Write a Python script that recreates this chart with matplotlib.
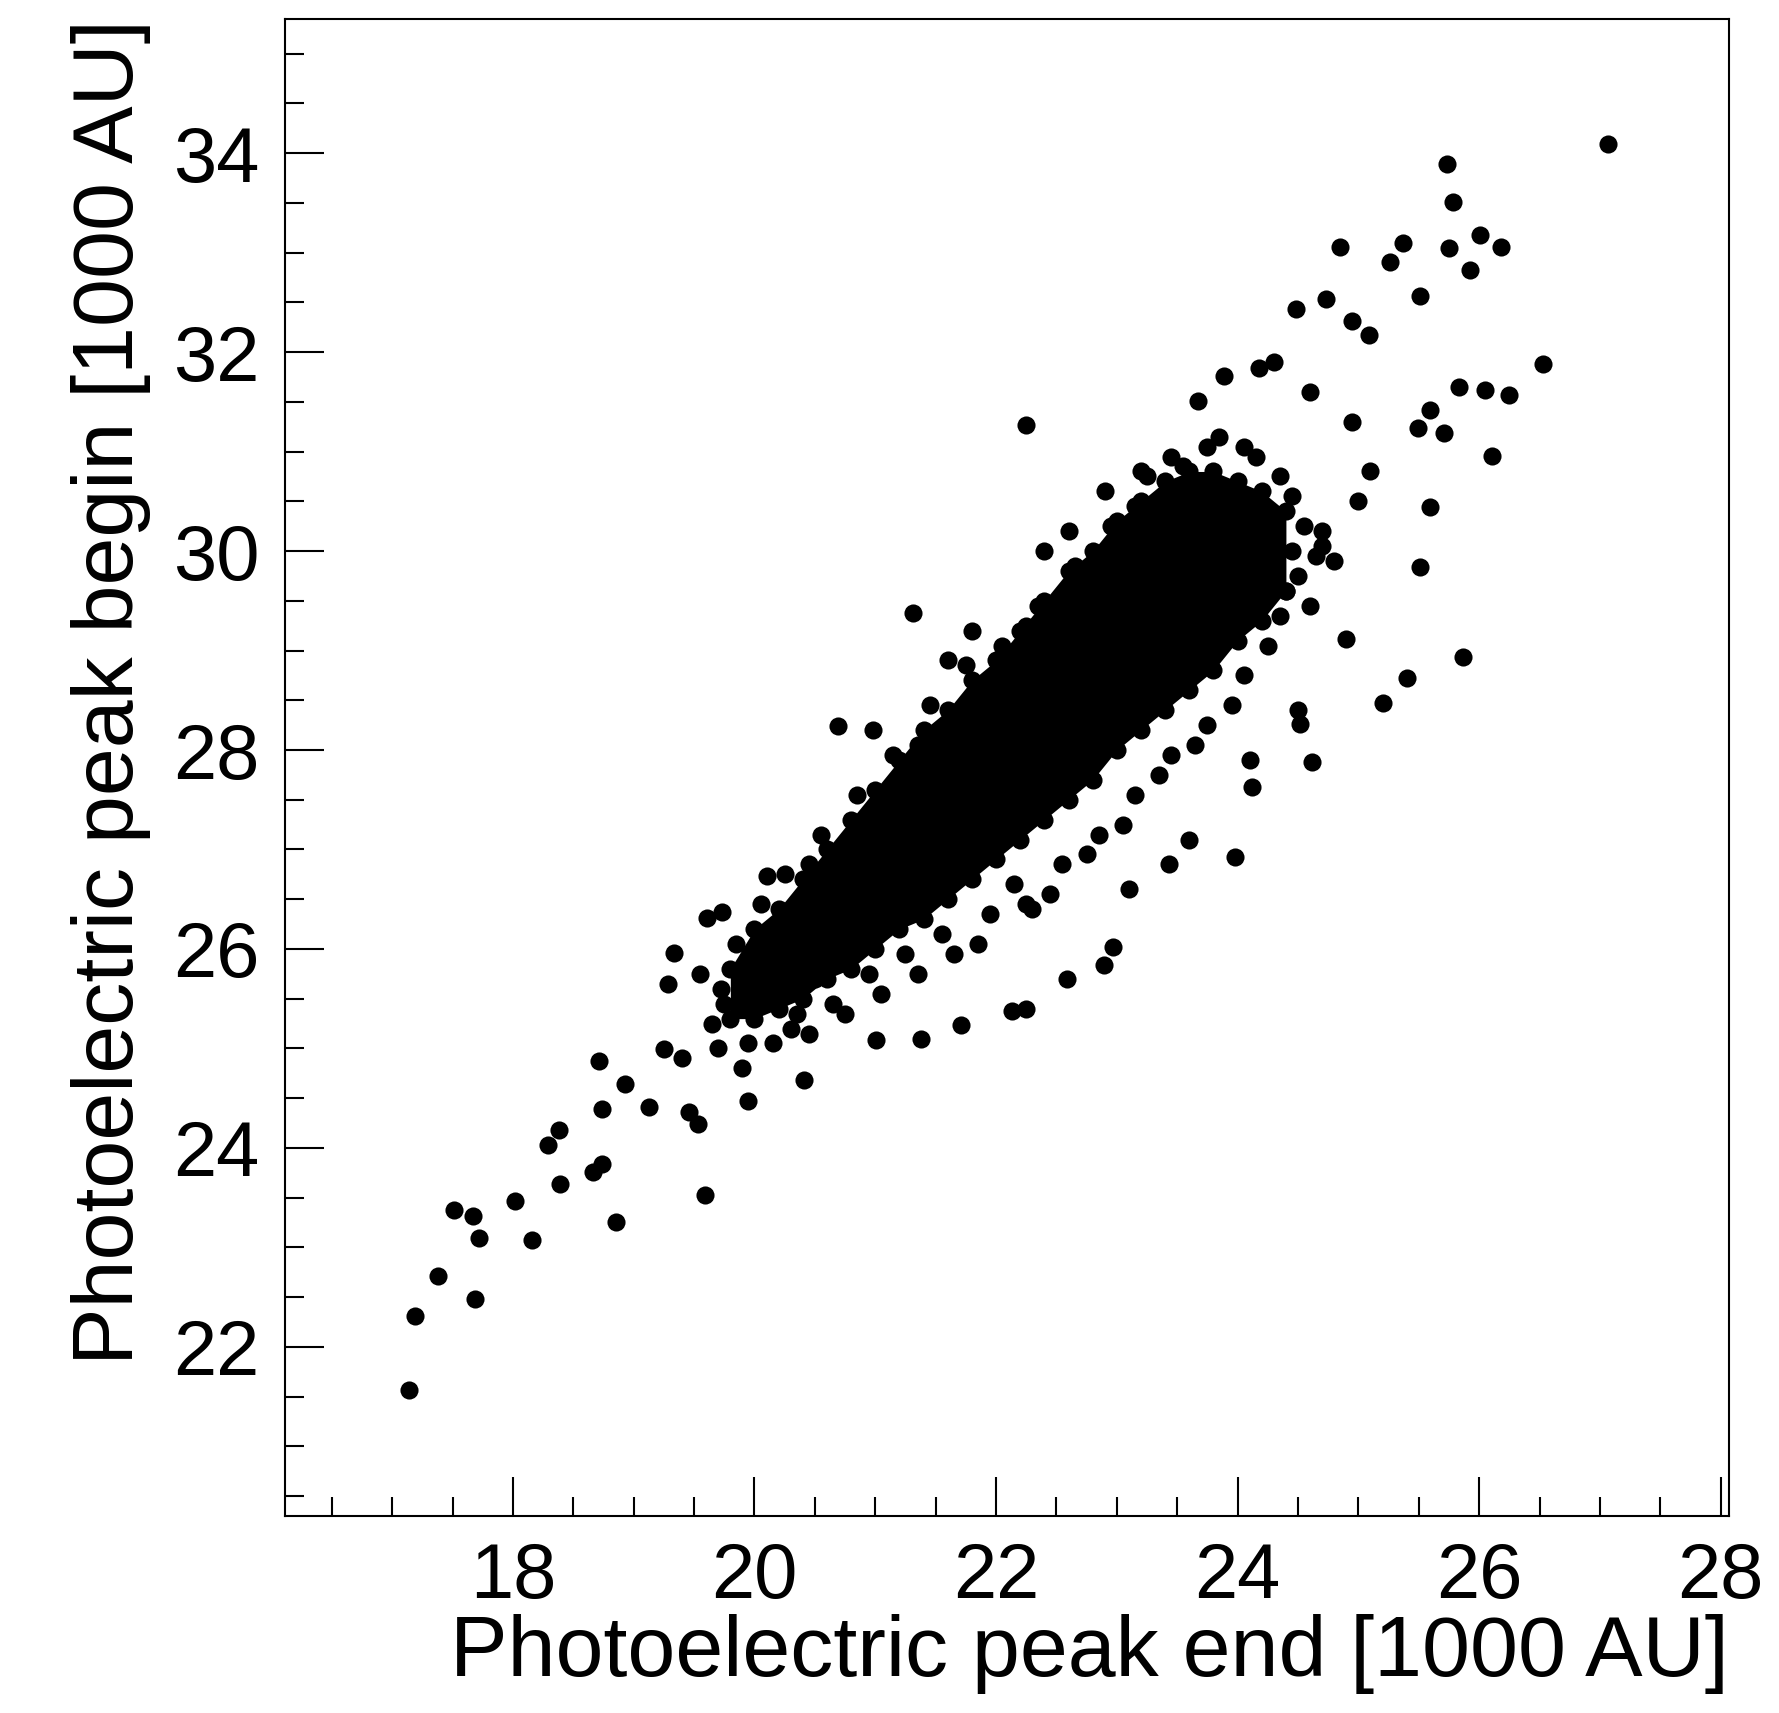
import matplotlib
matplotlib.use('Agg')
import matplotlib.pyplot as plt

plt.rcParams['font.family'] = ['Liberation Sans', 'DejaVu Sans']

# sparse / outlying events [1000 AU]
out_x = [27.07, 25.73, 25.78, 25.75, 26.01, 26.18, 25.92, 24.85, 25.37, 25.26, 25.51, 24.73, 24.48,
         24.95, 25.09, 26.53, 26.25, 26.05, 25.83, 25.71, 26.11, 25.59, 25.49, 25.59, 25.51, 25.87,
         25.40, 25.20, 22.25, 24.18, 23.89, 23.67, 24.90, 24.62, 24.52, 24.12, 23.98, 23.43, 22.97,
         22.89, 22.59, 22.25, 22.13, 21.71, 21.38, 21.01, 21.31, 20.69, 20.98, 19.59, 18.85, 18.16,
         17.72, 18.02, 17.67, 17.51, 17.69, 17.38, 17.19, 17.14, 18.39, 18.29, 18.38, 18.66, 18.74,
         18.74, 18.71, 18.93, 19.13, 19.25, 19.28, 19.33, 19.46, 19.53, 19.61, 19.73, 19.95, 20.10,
         20.41, 24.30, 24.60, 24.95, 25.10, 24.70, 24.40, 24.80, 25.00, 22.60, 22.90, 23.20, 22.40,
         21.80, 21.60, 22.30, 23.10, 23.60, 24.10, 24.50, 21.10, 20.50, 20.30, 19.70, 19.40, 19.90]
out_y = [34.09, 33.89, 33.51, 33.05, 33.18, 33.06, 32.83, 33.06, 33.10, 32.91, 32.56, 32.53, 32.43,
         32.31, 32.17, 31.88, 31.57, 31.62, 31.65, 31.19, 30.96, 31.42, 31.24, 30.44, 29.84, 28.93,
         28.72, 28.47, 31.27, 31.84, 31.76, 31.51, 29.12, 27.88, 28.26, 27.63, 26.92, 26.85, 26.02,
         25.84, 25.70, 25.40, 25.38, 25.24, 25.10, 25.08, 29.38, 28.24, 28.20, 23.53, 23.26, 23.07,
         23.09, 23.47, 23.32, 23.38, 22.48, 22.71, 22.31, 21.57, 23.64, 24.03, 24.18, 23.76, 23.84,
         24.39, 24.87, 24.64, 24.41, 24.99, 25.65, 25.96, 24.36, 24.24, 26.31, 26.37, 24.47, 26.73,
         24.68, 31.90, 31.60, 31.30, 30.80, 30.20, 29.60, 29.90, 30.50, 30.20, 30.60, 30.80, 30.00,
         29.20, 28.90, 26.40, 26.60, 27.10, 27.90, 28.40, 26.40, 25.70, 25.20, 25.00, 24.90, 24.80]

# halo of events around the dense core
halo_x = [19.75, 19.85, 20.05, 20.15, 20.25, 20.45, 20.55, 20.75, 20.85, 21.05, 21.15, 21.35,
          21.45, 21.65, 21.75, 21.95, 22.05, 22.25, 22.35, 22.55, 22.65, 22.85, 22.95, 23.15,
          23.25, 23.45, 23.55, 23.75, 23.85, 24.05, 24.15, 24.35, 24.45, 24.55, 24.50, 24.35,
          24.25, 24.05, 23.95, 23.75, 23.65, 23.45, 23.35, 23.15, 23.05, 22.85, 22.75, 22.55,
          22.45, 22.25, 22.15, 21.95, 21.85, 21.65, 21.55, 21.35, 21.25, 21.05, 20.95, 20.75,
          20.65, 20.45, 20.35, 20.15, 19.95, 19.65, 19.55, 24.65, 24.60, 24.70, 19.72, 24.45]
halo_y = [25.45, 26.05, 26.45, 26.15, 26.75, 26.85, 27.15, 27.05, 27.55, 27.45, 27.95, 28.05,
          28.45, 28.35, 28.85, 28.65, 29.05, 29.25, 29.45, 29.35, 29.85, 29.95, 30.25, 30.45,
          30.75, 30.95, 30.85, 31.05, 31.15, 31.05, 30.95, 30.75, 30.55, 30.25, 29.75, 29.35,
          29.05, 28.75, 28.45, 28.25, 28.05, 27.95, 27.75, 27.55, 27.25, 27.15, 26.95, 26.85,
          26.55, 26.45, 26.65, 26.35, 26.05, 25.95, 26.15, 25.75, 25.95, 25.55, 25.75, 25.35,
          25.45, 25.15, 25.35, 25.05, 25.05, 25.25, 25.75, 29.95, 29.45, 30.05, 25.60, 30.00]

# dense core of the distribution: lower / upper edge versus x
core_x = [19.8, 20.0, 20.2, 20.4, 20.6, 20.8, 21.0, 21.2, 21.4, 21.6, 21.8, 22.0,
          22.2, 22.4, 22.6, 22.8, 23.0, 23.2, 23.4, 23.6, 23.8, 24.0, 24.2, 24.4]
core_lo = [25.3, 25.3, 25.4, 25.5, 25.7, 25.8, 26.0, 26.2, 26.3, 26.5, 26.7, 26.9,
           27.1, 27.3, 27.5, 27.7, 28.0, 28.2, 28.4, 28.6, 28.8, 29.1, 29.3, 29.6]
core_hi = [25.8, 26.2, 26.4, 26.7, 27.0, 27.3, 27.6, 27.9, 28.2, 28.4, 28.7, 28.9,
           29.2, 29.5, 29.8, 30.0, 30.3, 30.5, 30.7, 30.8, 30.8, 30.7, 30.6, 30.4]

fig = plt.figure(figsize=(17.79, 17.13), dpi=100)
ax = fig.add_axes([0.160, 0.115, 0.812, 0.874])

ax.fill_between(core_x, core_lo, core_hi, color='black', lw=0, zorder=2)
for xs, ys in [(core_x, core_lo), (core_x, core_hi), (halo_x, halo_y), (out_x, out_y)]:
    ax.scatter(xs, ys, s=170, color='black', lw=0, zorder=3)

ax.set_xlim(16.11, 28.07)
ax.set_ylim(20.30, 35.35)
ax.set_xticks([18, 20, 22, 24, 26, 28])
ax.set_yticks([22, 24, 26, 28, 30, 32, 34])
ax.set_xticks([x / 2 for x in range(33, 57)], minor=True)
ax.set_yticks([y / 2 for y in range(41, 71)], minor=True)
ax.tick_params(which='major', direction='in', length=28, width=1.5, labelsize=56, pad=18)
ax.tick_params(which='minor', direction='in', length=14, width=1.5)
for s in ax.spines.values():
    s.set_linewidth(1.5)

ax.set_xlabel('Photoelectric peak end [1000 AU]', fontsize=62, loc='right', labelpad=0)
ax.set_ylabel('Photoelectric peak begin [1000 AU]', fontsize=62, loc='top', labelpad=16)

fig.savefig('out.png', dpi=100, facecolor='white')
